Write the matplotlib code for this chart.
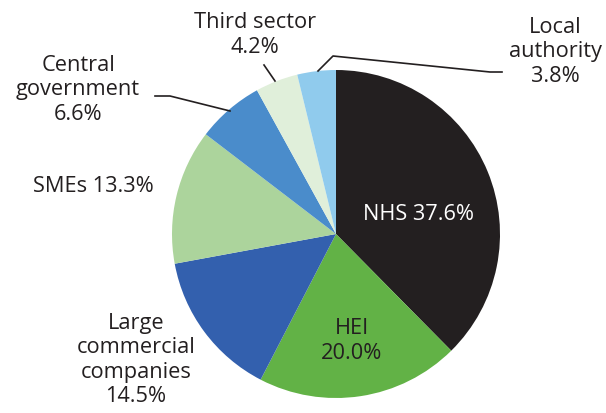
import matplotlib
matplotlib.use("Agg")
import matplotlib.pyplot as plt

categories = ["NHS", "HEI", "Large commercial companies", "SMEs",
              "Central government", "Third sector", "Local authority"]
values = [37.6, 20.0, 14.5, 13.3, 6.6, 4.2, 3.8]
colors = ["#231f20", "#62b246", "#3360ae", "#acd49c",
          "#4a8ccb", "#e0efda", "#90cbed"]
label_texts = ["NHS 37.6%", "HEI\n20.0%", "Large\ncommercial\ncompanies\n14.5%",
               "SMEs 13.3%", "Central\ngovernment\n6.6%", "Third sector\n4.2%",
               "Local\nauthority\n3.8%"]

W, H = 606, 414
plt.rcParams['font.family'] = ['Open Sans', 'DejaVu Sans']
fig = plt.figure(figsize=(W / 100, H / 100), dpi=100)
ax = fig.add_axes([0, 0, 1, 1])

def Y(y):
    return H - y

ax.pie(values, colors=colors, startangle=90, counterclock=False,
       center=(336, Y(235)), radius=164, frame=True,
       wedgeprops=dict(linewidth=0))
ax.set_xlim(0, W)
ax.set_ylim(0, H)
ax.set_aspect('equal')
ax.axis('off')

txt = "#231f20"
fs = 15.7
pos = [(418, 215), (352, 341), (136, 360), (93, 187), (78, 90), (255, 35), (555, 52)]
for i, (lab, (x, y)) in enumerate(zip(label_texts, pos)):
    c = "white" if i == 0 else txt
    ax.text(x, Y(y), lab, ha='center', va='center', fontsize=fs, color=c,
            linespacing=1.2, multialignment='center')

lw = 1.2
ax.plot([155, 170, 230], [Y(97), Y(97), Y(112)], color=txt, lw=lw)
ax.plot([264, 275], [Y(66), Y(82)], color=txt, lw=lw)
ax.plot([318, 333, 490, 502], [Y(72), Y(57), Y(73), Y(73)], color=txt, lw=lw)

fig.savefig("out.png", dpi=100)
